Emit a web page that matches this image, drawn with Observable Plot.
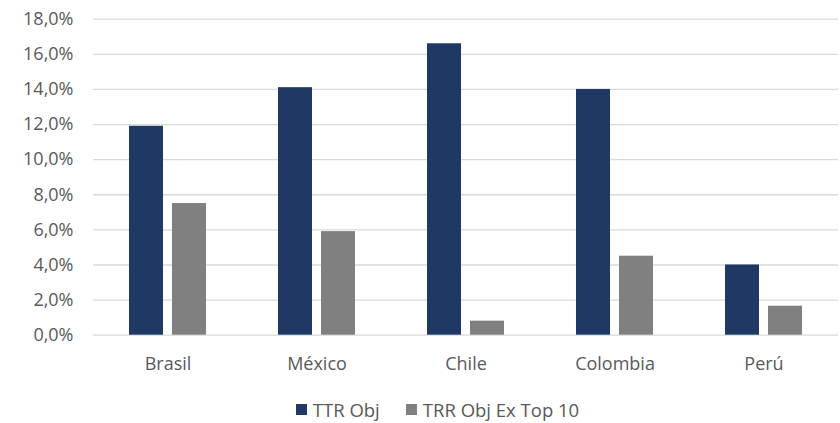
<!DOCTYPE html>
<html>
<head>
<meta charset="utf-8">
<script src="https://cdn.jsdelivr.net/npm/d3@7"></script>
<script src="https://cdn.jsdelivr.net/npm/@observablehq/plot@0.6"></script>
<style>
  html, body { margin: 0; padding: 0; background: #fff; }
  body { width: 840px; height: 423px; overflow: hidden; font-family: "Open Sans", sans-serif; }
  #legend { height: 28px; display: flex; justify-content: center; align-items: center; font-size: 18.5px; color: #595959; padding-left: 35px; }
  .item { display: flex; align-items: center; margin: 0 13px; }
  .sw { width: 11px; height: 11px; margin-right: 6px; }
</style>
</head>
<body>
<div id="chart"></div>
<div id="legend"></div>
<script>
const countries = ["Brasil", "México", "Chile", "Colombia", "Perú"];
const seriesNames = ["TTR Obj", "TRR Obj Ex Top 10"];
const ttrObj = [11.9, 14.1, 16.6, 14.0, 4.0];
const trrObjExTop10 = [7.5, 5.9, 0.8, 4.5, 1.65];
const yTicks = [0, 2, 4, 6, 8, 10, 12, 14, 16, 18];
const colors = ["#203864", "#808080"];

const rows = [];
countries.forEach((c, i) => {
  rows.push({country: c, series: seriesNames[0], value: ttrObj[i]});
  rows.push({country: c, series: seriesNames[1], value: trrObjExTop10[i]});
});

const fmt = v => v.toFixed(1).replace(".", ",") + "%";

const chart = Plot.plot({
  width: 840,
  height: 395,
  marginTop: 18.7,
  marginBottom: 60.3,
  marginLeft: 92,
  marginRight: 2,
  style: { fontFamily: "Open Sans, sans-serif", fontSize: "18px", color: "#595959", background: "#fff" },
  fx: { domain: countries, padding: 0, label: null, axis: "bottom", tickSize: 0, tickPadding: 22 },
  x: { domain: seriesNames, paddingInner: 0.209, paddingOuter: 0.831, axis: null },
  y: { domain: [0, 18], ticks: yTicks, tickFormat: fmt, label: null, tickSize: 0, tickPadding: 20 },
  color: { domain: seriesNames, range: colors },
  marks: [
    Plot.gridY(yTicks, { stroke: "#d9d9d9", strokeOpacity: 1, strokeWidth: 1.3, facetAnchor: null }),
    Plot.barY(rows, { fx: "country", x: "series", y: "value", fill: "series" }),
    Plot.axisY(yTicks, { tickFormat: fmt, tickSize: 0, tickPadding: 20, label: null, fill: "#595959" })
  ]
});
document.getElementById("chart").appendChild(chart);

const legend = document.getElementById("legend");
seriesNames.forEach((s, i) => {
  const it = document.createElement("div");
  it.className = "item";
  const sw = document.createElement("span");
  sw.className = "sw";
  sw.style.background = colors[i];
  const t = document.createElement("span");
  t.textContent = s;
  it.appendChild(sw); it.appendChild(t);
  legend.appendChild(it);
});
</script>
</body>
</html>
